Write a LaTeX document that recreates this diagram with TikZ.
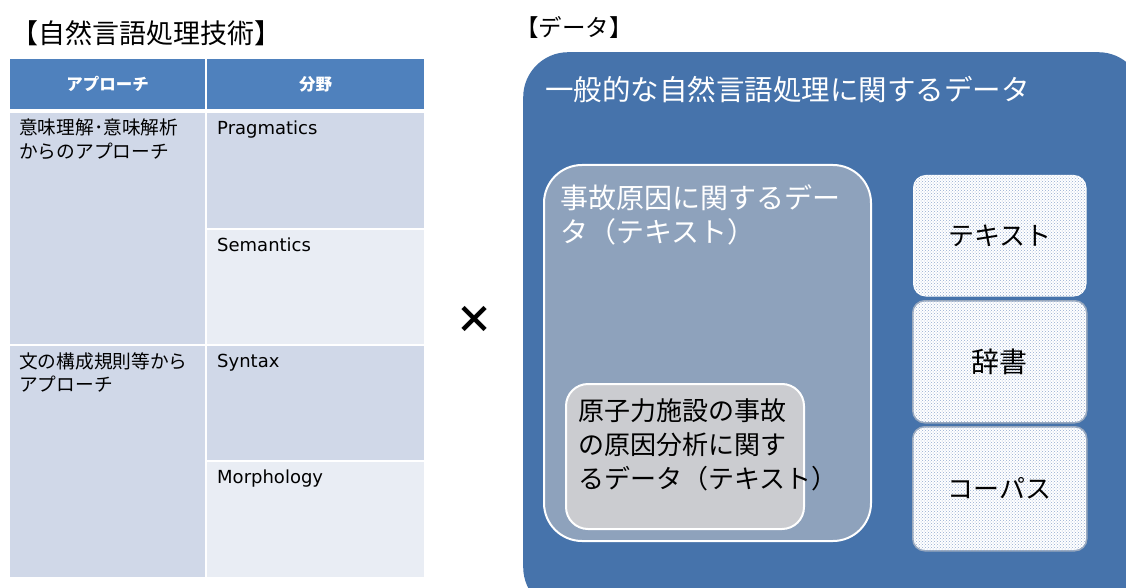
\documentclass[tikz,border=0pt]{standalone}
\usepackage{fontspec}
\setmainfont{Noto Sans CJK JP}
\newfontfamily\latin{DejaVu Sans}
\usetikzlibrary{patterns}
\definecolor{hdr}{HTML}{4F81BD}
\definecolor{cdark}{HTML}{D0D8E8}
\definecolor{clight}{HTML}{E9EDF4}
\definecolor{outerc}{HTML}{4673AB}
\definecolor{midc}{HTML}{8EA2BC}
\definecolor{innc}{HTML}{CBCCD0}
\definecolor{dotc}{HTML}{94ACD0}
\definecolor{edgec}{HTML}{9AA9BE}
\tikzset{
  cell/.style={draw=white, line width=2pt, anchor=north west, inner sep=0pt},
  celltxt/.style={anchor=north west, inner sep=0pt, align=left, font=\fontsize{18.7}{23.5}\selectfont},
  lattxt/.style={anchor=north west, inner sep=0pt, align=left, font=\latin\fontsize{18}{22}\selectfont},
  boxtxt/.style={anchor=north west, inner sep=0pt, align=left, font=\fontsize{28}{34}\selectfont},
  sidebox/.style={draw=edgec, line width=1.5pt, rounded corners=12pt, fill=white, postaction={pattern=crosshatch dots, pattern color=dotc}},
  sidetxt/.style={font=\fontsize{26}{32}\selectfont}
}
\begin{document}
\begin{tikzpicture}[x=1pt,y=-1pt]
\useasboundingbox (0,0) rectangle (1126,588);
\clip (0,0) rectangle (1126,588);
\fill[white] (0,0) rectangle (1126,588);
% titles
\node[anchor=west, inner sep=0pt, font=\fontsize{27}{30}\selectfont] (t1) at (11,33) {【自然言語処理技術】};
\node[anchor=west, inner sep=0pt, font=\fontsize{23.5}{26}\selectfont] (t2) at (515,28) {【データ】};
% table
\node[cell, fill=hdr, minimum width=197pt, minimum height=52pt] (h1) at (8,57) {};
\node[cell, fill=hdr, minimum width=219pt, minimum height=52pt] (h2) at (205,57) {};
\node[font=\bfseries\fontsize{16.5}{18}\selectfont, text=white] (h1t) at (h1.center) {アプローチ};
\node[font=\bfseries\fontsize{16.5}{18}\selectfont, text=white] (h2t) at (h2.center) {分野};
\node[cell, fill=cdark, minimum width=197pt, minimum height=234pt] (a1) at (8,111) {};
\node[cell, fill=cdark, minimum width=197pt, minimum height=233pt] (a2) at (8,344) {};
\node[cell, fill=cdark, minimum width=219pt, minimum height=117pt] (b1) at (205,111) {};
\node[cell, fill=clight, minimum width=219pt, minimum height=116pt] (b2) at (205,228) {};
\node[cell, fill=cdark, minimum width=219pt, minimum height=116pt] (b3) at (205,344) {};
\node[cell, fill=clight, minimum width=219pt, minimum height=117pt] (b4) at (205,460) {};
\node[celltxt] (a1t) at (19,119) {意味理解･意味解析\\からのアプローチ};
\node[celltxt] (a2t) at (19,352) {文の構成規則等から\\アプローチ};
\node[lattxt] (b1t) at (217,121) {Pragmatics};
\node[lattxt] (b2t) at (217,238) {Semantics};
\node[lattxt] (b3t) at (217,354) {Syntax};
\node[lattxt] (b4t) at (217,470) {Morphology};
% times sign
\node[font=\bfseries\fontsize{38}{40}\selectfont] (x) at (474,320) {×};
% outer data box
\node[anchor=north west, fill=outerc, rounded corners=45pt, minimum width=620pt, minimum height=560pt, inner sep=0pt] (outer) at (523,52) {};
\node[anchor=west, inner sep=0pt, text=white, font=\fontsize{28.5}{32}\selectfont] (outert) at (545,90) {一般的な自然言語処理に関するデータ};
% middle box
\node[anchor=north west, fill=midc, draw=white, line width=2pt, rounded corners=38pt, minimum width=327pt, minimum height=376pt, inner sep=0pt] (mid) at (543,164) {};
\node[boxtxt, text=white] (midt) at (560,184) {事故原因に関するデー\\タ（テキスト）};
% inner box
\node[anchor=north west, fill=innc, draw=white, line width=2pt, rounded corners=22pt, minimum width=238pt, minimum height=145pt, inner sep=0pt] (inn) at (565,383) {};
\node[boxtxt, font=\fontsize{26}{34}\selectfont] (innt) at (578,398) {原子力施設の事故\\の原因分析に関す\\るデータ（テキスト）};
% side boxes
\node[sidebox, draw=white, anchor=north west, minimum width=172pt, minimum height=120pt, inner sep=0pt] (s1) at (913,175) {};
\node[sidebox, anchor=north west, minimum width=174pt, minimum height=122pt, inner sep=0pt] (s2) at (912,300) {};
\node[sidebox, anchor=north west, minimum width=174pt, minimum height=124pt, inner sep=0pt] (s3) at (912,426) {};
\node[sidetxt] (s1t) at (s1.center) {テキスト};
\node[sidetxt, font=\fontsize{28}{32}\selectfont] (s2t) at (s2.center) {辞書};
\node[sidetxt] (s3t) at (s3.center) {コーパス};
\end{tikzpicture}
\end{document}
